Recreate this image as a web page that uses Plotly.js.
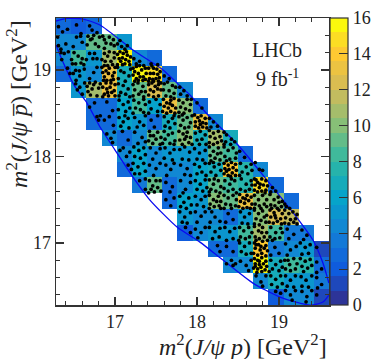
<!DOCTYPE html>
<html>
<head>
<meta charset="utf-8">
<script src="https://cdn.plot.ly/plotly-3.0.1.min.js"></script>
<style>html,body{margin:0;padding:0;background:#fff}</style>
</head>
<body>
<div id="plot" style="width:374px;height:359px"></div>
<script>
var _ = null;
var binCounts = [
 [3,2,3,_,_,_,_,_,_,_,_,_,_,_,_,_,_,_],
 [4,4,9,9,5,_,_,_,_,_,_,_,_,_,_,_,_,_],
 [4,8.5,5,11,15.5,4,2.5,_,_,_,_,_,_,_,_,_,_,_],
 [2.5,5,4,13,7,16,15,2.5,_,_,_,_,_,_,_,_,_,_],
 [_,5,10.5,13,7,9,12.5,9,4,_,_,_,_,_,_,_,_,_],
 [_,_,2.5,2.5,6,8,6,13.5,10,2.5,_,_,_,_,_,_,_,_],
 [_,_,3,3,6,5,3,7,9,13.5,4,_,_,_,_,_,_,_],
 [_,_,_,4,2.5,4,9,8,10,7,10.5,7,_,_,_,_,_,_],
 [_,_,_,_,4,6,4,5,5,5,9,8,2.5,_,_,_,_,_],
 [_,_,_,_,2.5,6,4,4,4,6,7,14,7.5,4,_,_,_,_],
 [_,_,_,_,_,3.5,9,3,4,6,9,8,7.5,15,3,_,_,_],
 [_,_,_,_,_,_,_,3,6,5,10,9,13,10,10,3,_,_],
 [_,_,_,_,_,_,_,_,5,4.5,4,3,5,10,12.5,11.5,_,_],
 [_,_,_,_,_,_,_,_,2,4.5,5,5,8,10.5,8,3.5,3.5,_],
 [_,_,_,_,_,_,_,_,_,_,2.5,2.5,6.5,14,3.5,4.5,5.5,1.5],
 [_,_,_,_,_,_,_,_,_,_,_,4,4.5,16,7,8,7.5,3],
 [_,_,_,_,_,_,_,_,_,_,_,_,_,4.5,6.5,5.5,5.5,3.5],
 [_,_,_,_,_,_,_,_,_,_,_,_,_,_,2,4,4,1.5]
];
var paletteColors = ["#2d3498","#1e48bb","#0f5cdd","#116ada","#1379d7","#1188d3","#0b96ce","#06a4ca","#16abba","#26b3ab","#40b99b","#63bc89","#87bf77","#a5bd6b","#c2bc5f","#dabd51","#ecc342","#fec932","#fcdd24","#fbf80d"];
var colorbarTicks = [0,2,4,6,8,10,12,14,16];
var axisTicks = [17,18,19];
var boundaryUpperX = [16.28,16.414,16.609,16.817,17.219,17.585,17.756,17.914,18.134,18.5,18.853,19.195,19.414,19.536,19.609];
var boundaryUpperY = [19.565,19.595,19.588,19.519,19.23,19.0,18.849,18.71,18.479,18.132,17.727,17.323,17.034,16.768,16.536];
var boundaryLowerX = [16.28,16.365,16.5,16.658,16.817,17.0,17.219,17.426,17.756,18.036,18.317,18.682,19.012,19.378,19.536,19.609];
var boundaryLowerY = [19.288,19.091,18.825,18.617,18.34,18.074,17.762,17.496,17.184,17.01,16.802,16.536,16.375,16.282,16.317,16.398];
var dots = [
16.31,19.50,16.36,19.44,16.42,19.47,16.585,19.42,16.53,19.52,16.69,19.51,16.72,19.46,16.78,19.43,
16.31,19.28,16.34,19.24,16.30,19.38,16.40,19.30,16.53,19.38,16.58,19.39,16.60,19.32,16.49,19.27,16.67,19.39,16.70,19.35,16.72,19.36,16.76,19.30,16.80,19.27,16.66,19.29,16.74,19.40,16.81,19.38,16.87,19.35,16.89,19.31,16.85,19.39,16.98,19.35,16.95,19.30,16.99,19.28,16.87,19.25,16.93,19.38,17.03,19.30,17.08,19.27,17.12,19.24,17.06,19.34,17.15,19.28,
16.34,19.20,16.38,19.19,16.43,19.21,16.35,19.12,16.48,19.07,16.52,19.07,16.585,19.08,16.55,19.16,16.60,19.13,16.50,19.20,16.62,19.06,16.47,19.12,16.75,19.19,16.73,19.13,16.78,19.13,16.69,19.19,16.65,19.12,16.87,19.19,16.91,19.16,16.95,19.10,16.87,19.05,16.91,19.05,16.97,19.06,16.99,19.20,16.84,19.12,16.99,19.14,16.93,19.21,16.88,19.10,17.03,19.18,17.05,19.13,17.09,19.14,17.13,19.12,17.03,19.06,17.07,19.10,17.10,19.19,17.15,19.17,17.17,19.10,17.12,19.07,17.06,19.21,17.14,19.21,17.19,19.15,17.18,19.06,17.09,19.06,17.23,19.13,17.30,19.10,17.35,19.05,17.26,19.07,17.44,19.07,17.52,19.06,
16.42,19.02,16.45,18.96,16.52,18.995,16.49,18.96,16.565,18.99,16.57,18.93,16.525,18.88,16.625,19.01,16.69,18.90,16.74,18.97,16.78,19.03,16.89,18.99,16.85,18.97,16.97,18.93,16.99,18.97,16.87,18.92,16.93,19.02,16.95,18.88,16.84,19.03,17.00,19.03,16.90,18.88,16.92,18.96,16.86,18.88,16.98,18.89,17.03,19.03,17.07,18.99,17.11,18.97,17.125,18.87,17.17,18.93,17.04,18.90,17.19,19.01,17.22,19.02,17.26,19.04,17.30,19.05,17.37,19.02,17.24,18.98,17.285,18.96,17.325,19.0,17.22,18.94,17.26,18.90,17.305,18.92,17.345,18.92,17.38,18.96,17.24,18.87,17.285,18.88,17.34,18.88,17.37,18.89,17.41,19.02,17.45,19.045,17.47,19.02,17.51,19.01,17.43,18.96,17.47,18.96,17.52,18.95,17.55,18.98,17.42,18.90,17.46,18.89,17.50,18.90,17.54,18.91,17.41,18.87,17.47,18.87,17.53,18.87,17.60,18.93,17.66,18.90,
16.52,18.84,16.57,18.80,16.60,18.72,16.54,18.77,16.63,18.85,16.69,18.85,16.72,18.78,16.67,18.75,16.74,18.83,16.78,18.70,16.80,18.79,16.70,18.71,16.76,18.86,16.82,18.84,16.66,18.81,16.89,18.85,16.95,18.85,16.85,18.80,16.90,18.78,16.94,18.80,17.00,18.83,16.87,18.72,16.92,18.70,16.96,18.74,16.99,18.76,16.85,18.69,16.91,18.74,17.00,18.70,17.04,18.84,17.10,18.82,17.16,18.78,17.07,18.74,17.13,18.72,17.18,18.69,17.05,18.70,17.22,18.83,17.28,18.85,17.34,18.81,17.24,18.77,17.32,18.75,17.37,18.75,17.22,18.70,17.29,18.72,17.35,18.69,17.41,18.83,17.45,18.85,17.49,18.81,17.53,18.83,17.56,18.85,17.43,18.77,17.47,18.75,17.52,18.78,17.56,18.77,17.41,18.71,17.47,18.69,17.53,18.70,17.60,18.84,17.64,18.86,17.70,18.82,17.59,18.77,17.66,18.76,17.72,18.73,17.62,18.70,17.68,18.69,17.74,18.80,17.79,18.80,17.84,18.76,17.80,18.72,17.88,18.70,
16.69,18.57,16.75,18.62,16.90,18.63,16.97,18.53,17.05,18.65,17.10,18.60,17.16,18.63,17.04,18.54,17.13,18.52,17.18,18.56,17.23,18.65,17.29,18.62,17.35,18.66,17.25,18.56,17.31,18.54,17.37,18.60,17.22,18.50,17.35,18.51,17.42,18.63,17.50,18.66,17.55,18.60,17.44,18.55,17.52,18.52,17.41,18.50,17.59,18.66,17.63,18.62,17.68,18.65,17.72,18.67,17.60,18.58,17.65,18.56,17.70,18.59,17.74,18.56,17.58,18.52,17.63,18.50,17.68,18.52,17.73,18.50,17.67,18.61,17.78,18.65,17.83,18.62,17.88,18.66,17.92,18.60,17.80,18.57,17.86,18.55,17.91,18.53,17.78,18.51,17.84,18.50,17.93,18.66,18.00,18.62,18.06,18.56,
16.78,18.46,16.80,18.42,16.82,18.47,16.87,18.42,16.93,18.46,16.98,18.36,17.05,18.45,17.10,18.40,17.16,18.44,17.07,18.35,17.17,18.33,17.12,18.47,17.24,18.45,17.30,18.40,17.37,18.47,17.27,18.34,17.35,18.36,17.44,18.42,17.52,18.47,17.48,18.34,17.60,18.46,17.65,18.40,17.70,18.44,17.73,18.38,17.61,18.35,17.67,18.33,17.72,18.47,17.78,18.46,17.83,18.42,17.88,18.45,17.92,18.39,17.80,18.36,17.85,18.33,17.90,18.34,17.94,18.47,17.82,18.48,17.97,18.48,18.01,18.45,18.05,18.47,18.10,18.44,17.98,18.40,18.03,18.41,18.07,18.39,18.11,18.38,17.98,18.35,18.02,18.33,18.07,18.34,18.12,18.33,18.04,18.37,18.15,18.44,18.20,18.40,18.25,18.35,18.17,18.34,
16.90,18.26,16.95,18.21,16.99,18.28,16.97,18.16,17.09,18.29,17.16,18.19,17.24,18.28,17.33,18.22,17.28,18.15,17.37,18.17,17.42,18.29,17.47,18.24,17.52,18.28,17.56,18.22,17.41,18.18,17.46,18.15,17.50,18.20,17.55,18.14,17.43,18.24,17.60,18.29,17.65,18.25,17.70,18.27,17.73,18.18,17.61,18.20,17.67,18.15,17.72,18.14,17.58,18.15,17.78,18.29,17.83,18.26,17.88,18.28,17.92,18.22,17.79,18.19,17.85,18.20,17.90,18.16,17.94,18.14,17.82,18.14,17.87,18.23,17.98,18.27,18.04,18.29,18.10,18.25,18.00,18.19,18.06,18.20,18.11,18.14,18.03,18.14,18.15,18.30,18.20,18.27,18.26,18.29,18.16,18.23,18.22,18.21,18.28,18.23,18.15,18.16,18.20,18.14,18.25,18.16,18.30,18.18,18.33,18.28,18.36,18.25,18.42,18.20,18.35,18.17,18.41,18.14,18.46,18.17,18.33,18.14,
17.06,18.07,17.10,18.10,17.14,18.00,17.18,18.05,17.23,18.11,17.29,18.07,17.35,18.10,17.24,18.00,17.31,17.98,17.37,18.02,17.43,18.10,17.50,18.04,17.55,18.09,17.46,17.97,17.61,18.10,17.67,18.04,17.72,18.08,17.60,17.98,17.70,17.96,17.79,18.08,17.85,18.11,17.91,18.05,17.82,17.97,17.90,17.96,17.97,18.09,18.03,18.04,18.10,18.07,18.00,17.97,18.07,17.96,18.15,18.11,18.20,18.06,18.26,18.10,18.29,18.04,18.16,18.01,18.22,17.98,18.28,17.96,18.17,17.95,18.25,18.03,18.33,18.11,18.38,18.07,18.44,18.10,18.48,18.04,18.34,18.00,18.40,17.97,18.47,17.98,18.36,17.95,18.52,18.06,18.58,17.99,
17.16,17.90,17.20,17.85,17.22,17.92,17.28,17.88,17.35,17.92,17.30,17.80,17.37,17.83,17.24,17.80,17.42,17.90,17.50,17.86,17.55,17.92,17.47,17.78,17.62,17.90,17.68,17.85,17.72,17.92,17.63,17.78,17.80,17.90,17.88,17.86,17.85,17.79,17.92,17.78,17.97,17.91,18.03,17.88,18.10,17.92,18.00,17.80,18.06,17.82,18.11,17.78,18.15,17.92,18.21,17.88,18.27,17.91,18.17,17.82,18.23,17.78,18.29,17.84,18.20,17.93,18.33,17.92,18.38,17.90,18.42,17.93,18.47,17.91,18.34,17.86,18.39,17.85,18.44,17.87,18.48,17.84,18.33,17.80,18.38,17.78,18.43,17.81,18.47,17.78,18.36,17.83,18.41,17.77,18.53,17.92,18.60,17.88,18.66,17.91,18.55,17.82,18.62,17.80,18.67,17.84,18.52,17.78,18.71,17.93,18.76,17.85,18.80,17.84,
17.30,17.72,17.37,17.62,17.37,17.74,17.42,17.72,17.46,17.66,17.44,17.62,17.50,17.72,17.48,17.59,17.52,17.64,17.55,17.72,17.56,17.60,17.41,17.58,17.62,17.70,17.70,17.65,17.67,17.59,17.80,17.72,17.86,17.62,17.92,17.70,17.83,17.58,17.98,17.72,18.04,17.68,18.10,17.73,18.00,17.62,18.07,17.60,18.12,17.64,18.15,17.73,18.20,17.68,18.26,17.72,18.29,17.65,18.17,17.62,18.23,17.60,18.28,17.58,18.15,17.59,18.21,17.74,18.34,17.72,18.40,17.68,18.46,17.72,18.33,17.63,18.38,17.60,18.44,17.62,18.48,17.58,18.42,17.74,18.54,17.74,18.60,17.68,18.66,17.72,18.53,17.62,18.59,17.60,18.64,17.62,18.67,17.67,18.70,17.74,18.74,17.70,18.79,17.74,18.84,17.72,18.71,17.67,18.76,17.64,18.81,17.67,18.86,17.66,18.70,17.61,18.74,17.59,18.79,17.60,18.84,17.61,18.72,17.73,18.77,17.68,18.83,17.58,18.92,17.64,18.96,17.60,18.90,17.59,
17.62,17.50,17.68,17.43,17.72,17.52,17.79,17.54,17.84,17.47,17.90,17.52,17.80,17.42,17.87,17.40,17.93,17.44,17.98,17.54,18.05,17.50,18.10,17.54,18.00,17.44,18.08,17.42,18.15,17.55,18.20,17.50,18.26,17.54,18.29,17.48,18.16,17.45,18.21,17.42,18.27,17.43,18.15,17.40,18.24,17.48,18.29,17.40,18.33,17.55,18.38,17.52,18.44,17.55,18.48,17.50,18.35,17.45,18.41,17.44,18.47,17.43,18.33,17.40,18.42,17.40,18.52,17.56,18.56,17.52,18.61,17.55,18.66,17.53,18.53,17.48,18.58,17.46,18.63,17.49,18.67,17.45,18.51,17.42,18.56,17.40,18.61,17.41,18.65,17.40,18.59,17.51,18.70,17.55,18.75,17.50,18.80,17.55,18.85,17.50,18.71,17.45,18.76,17.43,18.82,17.45,18.70,17.40,18.78,17.40,18.85,17.42,18.89,17.56,18.94,17.50,18.99,17.53,19.04,17.48,18.90,17.44,18.95,17.43,19.00,17.47,19.03,17.42,18.91,17.40,18.98,17.40,19.07,17.45,19.13,17.40,19.09,17.42,
17.79,17.36,17.85,17.30,17.92,17.35,17.88,17.23,17.82,17.24,17.98,17.36,18.05,17.31,18.10,17.36,18.00,17.24,18.18,17.36,18.22,17.30,18.28,17.25,18.16,17.24,18.38,17.34,18.44,17.27,18.35,17.24,18.53,17.36,18.58,17.30,18.64,17.34,18.55,17.23,18.62,17.22,18.70,17.38,18.75,17.34,18.80,17.37,18.85,17.32,18.72,17.28,18.78,17.26,18.84,17.24,18.70,17.22,18.76,17.21,18.82,17.30,18.89,17.38,18.94,17.35,19.00,17.38,19.04,17.34,18.90,17.30,18.96,17.29,19.02,17.28,18.88,17.24,18.93,17.23,18.98,17.25,19.03,17.22,18.95,17.32,19.07,17.38,19.12,17.34,19.17,17.36,19.22,17.33,19.08,17.29,19.14,17.27,19.20,17.28,19.07,17.23,19.12,17.22,19.18,17.24,19.22,17.22,
17.86,17.18,17.92,17.12,17.98,17.16,18.05,17.12,18.10,17.18,18.01,17.06,18.15,17.18,18.22,17.13,18.28,17.17,18.19,17.05,18.27,17.07,18.34,17.18,18.40,17.13,18.46,17.17,18.36,17.03,18.44,17.05,18.52,17.18,18.57,17.14,18.63,17.18,18.67,17.12,18.53,17.07,18.59,17.05,18.64,17.07,18.51,17.03,18.70,17.19,18.75,17.14,18.80,17.18,18.85,17.12,18.71,17.07,18.76,17.05,18.82,17.07,18.86,17.03,18.72,17.03,18.79,17.12,18.90,17.18,18.96,17.12,19.02,17.17,18.89,17.07,18.95,17.05,19.01,17.06,19.04,17.12,18.92,17.03,19.10,17.16,19.18,17.10,19.12,17.05,19.28,17.15,19.34,17.09,19.30,17.04,
18.25,16.97,18.28,16.90,18.36,16.96,18.44,16.90,18.52,17.00,18.58,16.96,18.64,17.00,18.54,16.90,18.60,16.87,18.66,16.88,18.70,17.00,18.75,16.98,18.80,17.02,18.84,16.97,18.71,16.94,18.77,16.92,18.82,16.94,18.86,16.91,18.69,16.88,18.74,16.86,18.79,16.88,18.84,16.85,18.72,16.98,18.78,16.96,18.95,16.95,19.00,16.88,18.90,16.86,19.08,16.99,19.14,16.92,19.21,16.96,19.10,16.86,19.26,17.00,19.32,16.95,19.38,16.98,19.28,16.87,19.36,16.88,19.46,16.95,
18.36,16.76,18.42,16.80,18.47,16.76,18.44,16.74,18.53,16.79,18.60,16.74,18.66,16.80,18.63,16.68,18.70,16.82,18.74,16.80,18.79,16.83,18.84,16.79,18.71,16.76,18.76,16.75,18.81,16.76,18.85,16.73,18.69,16.71,18.74,16.70,18.78,16.72,18.83,16.69,18.73,16.66,18.79,16.67,18.76,16.79,18.71,16.73,18.90,16.80,18.96,16.75,19.02,16.79,18.92,16.70,19.00,16.68,18.88,16.67,19.04,16.72,19.07,16.80,19.13,16.75,19.18,16.82,19.22,16.76,19.08,16.70,19.14,16.68,19.20,16.70,19.11,16.80,19.26,16.82,19.32,16.79,19.38,16.81,19.28,16.73,19.35,16.71,19.40,16.74,19.30,16.67,19.46,16.78,19.52,16.70,19.46,16.66,
18.72,16.62,18.78,16.55,18.84,16.62,18.80,16.50,18.90,16.62,18.96,16.58,19.02,16.62,18.91,16.52,18.98,16.49,19.04,16.53,19.08,16.62,19.14,16.57,19.20,16.62,19.10,16.50,19.18,16.49,19.27,16.61,19.33,16.57,19.40,16.62,19.28,16.50,19.36,16.49,19.46,16.60,19.52,16.52,19.47,16.48,
18.96,16.44,19.02,16.42,19.08,16.45,19.14,16.40,19.20,16.45,19.16,16.34,19.28,16.44,19.34,16.38,19.40,16.45,19.33,16.32,19.46,16.40
];
var dotsX = dots.filter(function(v,i){return i%2===0;});
var dotsY = dots.filter(function(v,i){return i%2===1;});
var serif = "Liberation Serif, Times New Roman, serif";
var ink = "#333333";
var stepScale = [];
paletteColors.forEach(function(c,i){
  stepScale.push([i/paletteColors.length,c]);
  stepScale.push([(i+1)/paletteColors.length,c]);
});
var traces = [
 {type:"heatmap", z:binCounts.slice().reverse(), x0:16.3725, dx:0.185, y0:16.38, dy:0.184, zmin:0, zmax:16,
  zsmooth:false, colorscale:stepScale, hoverinfo:"skip", xgap:0, ygap:0,
  colorbar:{x:1.004, xanchor:"left", xpad:0, y:0, yanchor:"bottom", ypad:0, len:1, lenmode:"fraction",
    thickness:18, thicknessmode:"pixels", outlinecolor:ink, outlinewidth:1.2,
    ticks:"inside", ticklen:9, tickwidth:1.2, tickcolor:ink, tickvals:colorbarTicks,
    tickfont:{family:serif,size:18,color:"#222"}}},
 {type:"scatter", mode:"lines", x:boundaryUpperX, y:boundaryUpperY, line:{color:"#0a0af0",width:1.3,shape:"spline",smoothing:0.6}, hoverinfo:"skip"},
 {type:"scatter", mode:"lines", x:boundaryLowerX, y:boundaryLowerY, line:{color:"#0a0af0",width:1.3,shape:"spline",smoothing:0.6}, hoverinfo:"skip"},
 {type:"scatter", mode:"markers", x:dotsX, y:dotsY, marker:{color:"#000",size:3.7}, hoverinfo:"skip"}
];
function axis(range){
  return {range:range, showgrid:false, zeroline:false, showline:true, linecolor:ink, linewidth:1.5, mirror:"ticks",
    ticks:"inside", ticklen:8, tickwidth:1.3, tickcolor:ink, tickvals:axisTicks, ticktext:axisTicks.map(String),
    tickfont:{family:serif,size:18,color:"#222"},
    minor:{dtick:0.2, tick0:17, ticks:"inside", ticklen:4, tickwidth:1.1, tickcolor:ink, showgrid:false}};
}
var layout = {
  width:374, height:359, showlegend:false, paper_bgcolor:"#fff", plot_bgcolor:"#fff",
  margin:{l:56,r:45,t:18,b:54,autoexpand:false},
  xaxis:axis([16.28,19.61]), yaxis:axis([16.283,19.6]),
  annotations:[
   {xref:"paper",yref:"paper",x:1,y:-0.08,xanchor:"right",yanchor:"top",showarrow:false,
    text:"<i>m</i><sup>2</sup>(<i>J/ψ p</i>) [GeV<sup>2</sup>]",font:{family:serif,size:24,color:"#222"}},
   {xref:"paper",yref:"paper",x:-0.143,y:1,xanchor:"center",yanchor:"top",showarrow:false,textangle:-90,
    text:"<i>m</i><sup>2</sup>(<i>J/ψ</i> <i>p̅</i>) [GeV<sup>2</sup>]",font:{family:serif,size:24,color:"#222"}},
   {xref:"paper",yref:"paper",x:0.81,y:0.888,xanchor:"center",yanchor:"middle",showarrow:false,
    text:"LHCb",font:{family:serif,size:20,color:"#222"}},
   {xref:"paper",yref:"paper",x:0.81,y:0.79,xanchor:"center",yanchor:"middle",showarrow:false,
    text:"9 fb<sup>-1</sup>",font:{family:serif,size:20,color:"#222"}}
  ]
};
Plotly.newPlot("plot",traces,layout,{displayModeBar:false,staticPlot:true});
</script>
</body>
</html>
